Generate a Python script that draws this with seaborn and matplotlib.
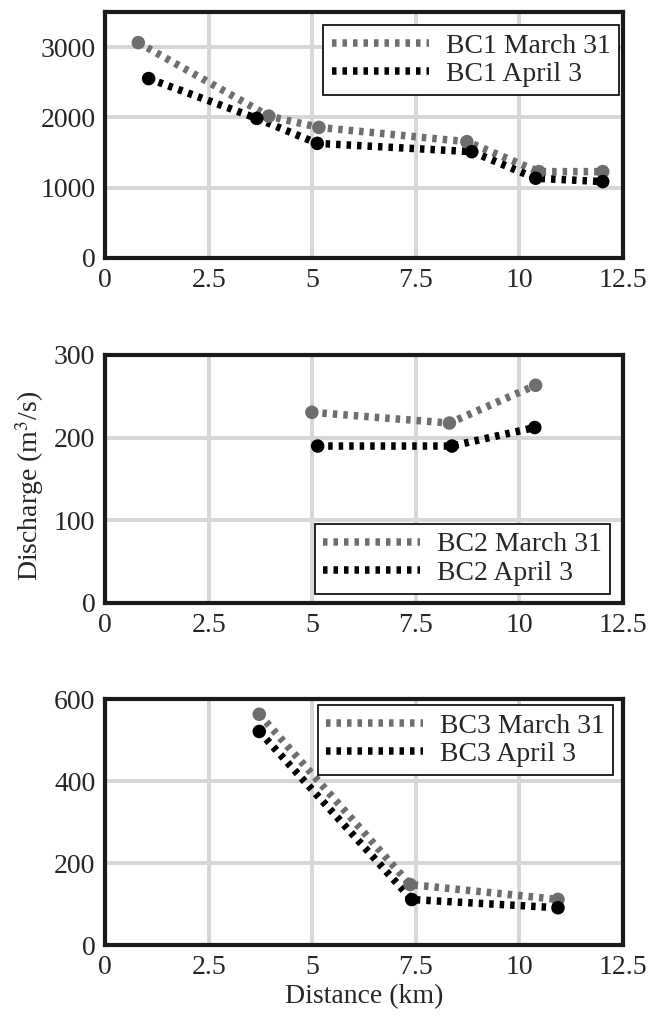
import numpy as np
import pandas as pd
import matplotlib
matplotlib.use('Agg')
import matplotlib.pyplot as plt
import seaborn as sns

# Discharge measurements along the channels (distance in km, discharge in m3/s)
bc1_mar_dist = [0.80, 3.95, 5.16, 8.73, 10.47, 12.01]
bc1_mar_q = [3064, 2019, 1858, 1655, 1229, 1229]
bc1_apr_dist = [1.05, 3.66, 5.12, 8.85, 10.39, 12.01]
bc1_apr_q = [2553, 1986, 1631, 1513, 1135, 1087]

bc2_mar_dist = [4.99, 8.31, 10.39]
bc2_mar_q = [230.6, 217.6, 263.3]
bc2_apr_dist = [5.13, 8.37, 10.37]
bc2_apr_q = [189.8, 189.8, 212.2]

bc3_mar_dist = [3.72, 7.36, 10.93]
bc3_mar_q = [563, 147.6, 111.3]
bc3_apr_dist = [3.72, 7.40, 10.93]
bc3_apr_q = [521, 111, 91]

x_ticks = [0, 2.5, 5, 7.5, 10, 12.5]
x_labels = ['0', '2.5', '5', '7.5', '10', '12.5']

sns.set_style('white')
plt.rcParams['font.family'] = ['Liberation Serif', 'DejaVu Serif']
plt.rcParams['mathtext.fontset'] = 'stix'
plt.rcParams['font.size'] = 20

gray = '#6e6e6e'
dot = (0, (0.6, 0.8))

fig = plt.figure(figsize=(6.49, 10.27), dpi=100)
ax1 = fig.add_axes([0.162, 0.7488, 0.798, 0.2395])
ax2 = fig.add_axes([0.162, 0.4129, 0.798, 0.2415])
ax3 = fig.add_axes([0.162, 0.0798, 0.798, 0.2395])

panels = [
    (ax1, 'BC1', bc1_mar_dist, bc1_mar_q, bc1_apr_dist, bc1_apr_q,
     3500, [0, 1000, 2000, 3000], 'upper right', (0.992, 0.947)),
    (ax2, 'BC2', bc2_mar_dist, bc2_mar_q, bc2_apr_dist, bc2_apr_q,
     300, [0, 100, 200, 300], 'lower right', (0.975, 0.036)),
    (ax3, 'BC3', bc3_mar_dist, bc3_mar_q, bc3_apr_dist, bc3_apr_q,
     600, [0, 200, 400, 600], 'upper right', (0.981, 0.976)),
]

for ax, name, md, mq, ad, aq, ymax, yt, loc, anchor in panels:
    for d, q, c, lab in [(md, mq, gray, name + ' March 31'),
                         (ad, aq, 'black', name + ' April 3')]:
        df = pd.DataFrame({'dist': d, 'q': q})
        sns.lineplot(data=df, x='dist', y='q', ax=ax, color=c, linewidth=5.4,
                     linestyle=dot, label=lab, sort=False, zorder=3)
        sns.scatterplot(data=df, x='dist', y='q', ax=ax, color=c, s=95,
                        edgecolor='none', legend=False, zorder=4)

    ax.set_xlim(0, 12.5)
    ax.set_ylim(0, ymax)
    ax.set_xticks(x_ticks)
    ax.set_xticklabels(x_labels)
    ax.set_yticks(yt)
    ax.set_xlabel('')
    ax.set_ylabel('')
    ax.grid(True, color='#d6d6d6', linewidth=2.8, zorder=0)
    ax.set_axisbelow(True)
    ax.tick_params(direction='in', length=3, width=2, color='#1a1a1a',
                   labelsize=20, pad=7)
    for sp in ax.spines.values():
        sp.set_linewidth(3)
        sp.set_color('#1a1a1a')
        sp.set_visible(True)

    leg = ax.legend(loc=loc, bbox_to_anchor=anchor, borderaxespad=0,
                    fontsize=20, handlelength=3.5, handletextpad=0.6,
                    labelspacing=0.1, borderpad=0.3, fancybox=False,
                    framealpha=1)
    leg.get_frame().set_edgecolor('black')
    leg.get_frame().set_linewidth(1.2)
    leg.set_zorder(5)

ax2.set_ylabel('Discharge (m$^3$/s)', fontsize=20)
ax2.yaxis.set_label_coords(-0.115, 0.47)
ax3.set_xlabel('Distance (km)', fontsize=20, labelpad=3)

fig.savefig('out.png', dpi=100)
